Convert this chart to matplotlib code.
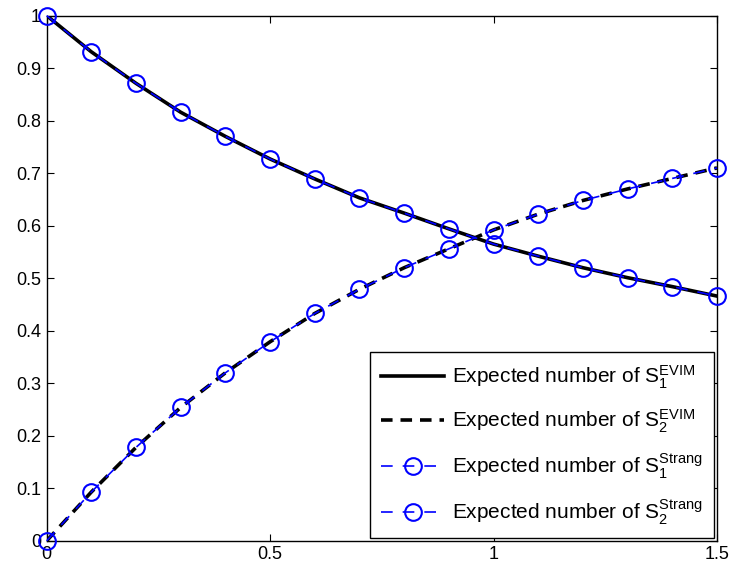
import matplotlib
matplotlib.use("Agg")
import matplotlib.pyplot as plt
import numpy as np

t = [0.0, 0.1, 0.2, 0.3, 0.4, 0.5, 0.6, 0.7, 0.8, 0.9, 1.0, 1.1, 1.2, 1.3, 1.4, 1.5]
s1_evim = [1.0, 0.931, 0.871, 0.816, 0.770, 0.727, 0.689, 0.653, 0.624, 0.594, 0.565, 0.542, 0.520, 0.501, 0.484, 0.466]
s2_evim = [0.0, 0.093, 0.178, 0.254, 0.320, 0.379, 0.433, 0.479, 0.520, 0.556, 0.592, 0.622, 0.648, 0.670, 0.690, 0.710]
s1_strang = [1.0, 0.931, 0.871, 0.816, 0.770, 0.727, 0.689, 0.653, 0.624, 0.594, 0.565, 0.542, 0.520, 0.501, 0.484, 0.466]
s2_strang = [0.0, 0.093, 0.178, 0.254, 0.320, 0.379, 0.433, 0.479, 0.520, 0.556, 0.592, 0.622, 0.648, 0.670, 0.690, 0.710]

xticks = [0, 0.5, 1, 1.5]
xticklabels = ["0", "0.5", "1", "1.5"]
yticks = [0, 0.1, 0.2, 0.3, 0.4, 0.5, 0.6, 0.7, 0.8, 0.9, 1.0]
yticklabels = ["0", "0.1", "0.2", "0.3", "0.4", "0.5", "0.6", "0.7", "0.8", "0.9", "1"]

labels = [r"Expected number of $\mathrm{S}_1^{\mathrm{EVIM}}$",
          r"Expected number of $\mathrm{S}_2^{\mathrm{EVIM}}$",
          r"Expected number of $\mathrm{S}_1^{\mathrm{Strang}}$",
          r"Expected number of $\mathrm{S}_2^{\mathrm{Strang}}$"]

plt.rcParams['font.family'] = ['Liberation Sans', 'DejaVu Sans']
plt.rcParams['mathtext.fontset'] = 'custom'
plt.rcParams['mathtext.rm'] = 'Liberation Sans'
plt.rcParams['mathtext.it'] = 'Liberation Sans:italic'
plt.rcParams['mathtext.bf'] = 'Liberation Sans:bold'

fig = plt.figure(figsize=(7.35, 5.72), dpi=100)
ax = fig.add_axes([0.0635, 0.0545, 0.912, 0.9182])

ax.plot(t, s1_evim, color='black', lw=2.6, ls='-', label=labels[0], zorder=2)
ax.plot(t, s2_evim, color='black', lw=2.6, ls=(0, (3.2, 2.2)), label=labels[1], zorder=2)
ax.plot(t, s1_strang, color='#0000ff', lw=1.2, ls=(0, (7, 6)), marker='o', ms=12,
        mfc='none', mec='#0000ff', mew=1.5, label=labels[2], zorder=3, clip_on=False)
ax.plot(t, s2_strang, color='#0000ff', lw=1.2, ls=(0, (7, 6)), marker='o', ms=12,
        mfc='none', mec='#0000ff', mew=1.5, label=labels[3], zorder=3, clip_on=False)

ax.set_xlim(0, 1.5)
ax.set_ylim(0, 1)
ax.set_xticks(xticks)
ax.set_xticklabels(xticklabels)
ax.set_yticks(yticks)
ax.set_yticklabels(yticklabels)
ax.tick_params(direction='in', top=True, right=True, labelsize=13, length=5, width=0.8, pad=4)
for sp in ax.spines.values():
    sp.set_linewidth(1.0)

leg = ax.legend(loc='lower right', fontsize=15, frameon=True, fancybox=False,
                edgecolor='black', framealpha=1, borderaxespad=0.12,
                handlelength=3.0, handletextpad=0.4, labelspacing=0.8, borderpad=0.55)
leg.get_frame().set_linewidth(1.0)

fig.savefig("out.png", dpi=100)
